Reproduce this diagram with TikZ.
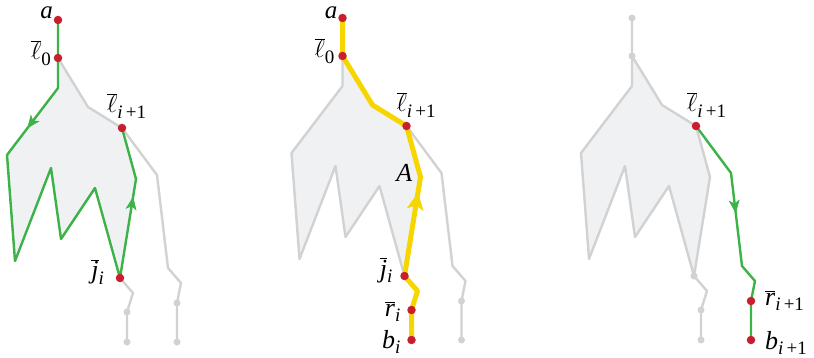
\documentclass[tikz,border=0pt]{standalone}
\usepackage{fontspec}
\setmainfont{Liberation Serif}
\usetikzlibrary{decorations.markings,arrows.meta}
\definecolor{grn}{RGB}{60,178,72}
\definecolor{ylw}{RGB}{247,214,0}
\definecolor{rdot}{RGB}{200,30,45}
\definecolor{gline}{RGB}{210,210,210}
\definecolor{gfill}{RGB}{240,241,243}
\newcommand\ob[1]{\ensuremath{\overline{\hbox{\itshape #1}}}}
\newcommand\obl{\ensuremath{\overline{\ell}}}
\newcommand\sbs[1]{\raisebox{-0.2em}{\fontsize{19}{19}\selectfont #1}}
\newcommand\defpts[1]{%
 \coordinate (#1a) at (58,20);
 \coordinate (#1l0) at (58,58);
 \coordinate (#1p1) at (58,88);
 \coordinate (#1p2) at (7,155);
 \coordinate (#1p3) at (15,261);
 \coordinate (#1p4) at (51,168);
 \coordinate (#1p5) at (61,239);
 \coordinate (#1p6) at (95,188);
 \coordinate (#1j) at (120,278);
 \coordinate (#1A) at (136,179);
 \coordinate (#1l) at (122,128);
 \coordinate (#1q) at (88,107);
 \coordinate (#1s1) at (157,175);
 \coordinate (#1s2) at (168,268);
 \coordinate (#1s3) at (181,283);
 \coordinate (#1r2) at (177,303);
 \coordinate (#1b2) at (177,342);
 \coordinate (#1t1) at (133,293);
 \coordinate (#1r) at (127,312);
 \coordinate (#1b) at (127,342);
}
\newcommand\polyfill[1]{%
 \fill[gfill] (#1l0) -- (#1p1) -- (#1p2) -- (#1p3) -- (#1p4) -- (#1p5) -- (#1p6) -- (#1j) -- (#1A) -- (#1l) -- (#1q) -- cycle;
}
\begin{document}
\begin{tikzpicture}[x=1pt,y=-1pt,
  gl/.style={draw=gline,line width=2.4pt,line join=round,line cap=round},
  gr/.style={draw=grn,line width=2.4pt,line join=round,line cap=round},
  yl/.style={draw=ylw,line width=5pt,line join=round,line cap=round},
  rd/.style={circle,fill=rdot,inner sep=0pt,minimum size=8.5pt},
  gd/.style={circle,fill=gline,inner sep=0pt,minimum size=7pt},
  lbl/.style={inner sep=0pt,font=\fontsize{26}{28}\selectfont},
  small/.style={text height=11pt,font=\fontsize{25}{27}\selectfont},
  garrow/.style={color=grn,postaction={decorate},decoration={markings,mark=at position #1 with {\arrow{Stealth[length=13pt,width=11pt,inset=3.5pt,line width=0.5pt]}}}},
  yarrow/.style={color=ylw,postaction={decorate},decoration={markings,mark=at position #1 with {\arrow{Stealth[length=17pt,width=17pt,inset=4.5pt,line width=0.5pt]}}}}
]
\useasboundingbox (0,0) rectangle (814,358);

% ---------- panel 1 ----------
\begin{scope}
\defpts{P1-}
\polyfill{P1-}
\draw[gl] (P1-l0) -- (P1-q) -- (P1-l) -- (P1-s1) -- (P1-s2) -- (P1-s3) -- (P1-r2) -- (P1-b2);
\draw[gl] (P1-j) -- (P1-t1) -- (P1-r) -- (P1-b);
\draw[gr] (P1-a) -- (P1-l0) -- (P1-p1) -- (P1-p2) -- (P1-p3) -- (P1-p4) -- (P1-p5) -- (P1-p6) -- (P1-j) -- (P1-A) -- (P1-l);
\path[garrow=0.6] (P1-p1) -- (P1-p2);
\path[garrow=0.82] (P1-j) -- (P1-A);
\node[gd] (P1-dr) at (P1-r) {};
\node[gd] (P1-db) at (P1-b) {};
\node[gd] (P1-dr2) at (P1-r2) {};
\node[gd] (P1-db2) at (P1-b2) {};
\node[rd] (P1-da) at (P1-a) {};
\node[rd] (P1-dl0) at (P1-l0) {};
\node[rd] (P1-dl) at (P1-l) {};
\node[rd] (P1-dj) at (P1-j) {};
\node[lbl,small,anchor=base east] (P1-ta) at (53,19) {\itshape a};
\node[lbl,anchor=base east] (P1-tl0) at (51,60) {\obl\sbs{0}};
\node[lbl,anchor=base west] (P1-tl) at (107,113) {\obl\sbs{\itshape i\,\upshape +1}};
\node[lbl,anchor=base east] (P1-tj) at (104,279) {\ob{j}\sbs{\itshape i}};
\end{scope}

% ---------- panel 2 ----------
\begin{scope}[shift={(284.5,-2)}]
\defpts{P2-}
\polyfill{P2-}
\draw[gl] (P2-l0) -- (P2-p1) -- (P2-p2) -- (P2-p3) -- (P2-p4) -- (P2-p5) -- (P2-p6) -- (P2-j);
\draw[gl] (P2-l) -- (P2-s1) -- (P2-s2) -- (P2-s3) -- (P2-r2) -- (P2-b2);
\draw[yl] (P2-a) -- (P2-l0) -- (P2-q) -- (P2-l) -- (P2-A) -- (P2-j) -- (P2-t1) -- (P2-r) -- (P2-b);
\path[yarrow=0.84] (P2-j) -- (P2-A);
\node[gd] (P2-dr2) at (P2-r2) {};
\node[gd] (P2-db2) at (P2-b2) {};
\node[rd] (P2-da) at (P2-a) {};
\node[rd] (P2-dl0) at (P2-l0) {};
\node[rd] (P2-dl) at (P2-l) {};
\node[rd] (P2-dj) at (P2-j) {};
\node[rd] (P2-dr) at (P2-r) {};
\node[rd] (P2-db) at (P2-b) {};
\node[lbl,small,anchor=base east] (P2-ta) at (53,21) {\itshape a};
\node[lbl,anchor=base east] (P2-tl0) at (50,60) {\obl\sbs{0}};
\node[lbl,anchor=base west] (P2-tl) at (112,114) {\obl\sbs{\itshape i\,\upshape +1}};
\node[lbl,anchor=base east] (P2-tA) at (128,184) {\itshape A};
\node[lbl,anchor=base east] (P2-tj) at (108,279) {\ob{j}\sbs{\itshape i}};
\node[lbl,anchor=base east] (P2-tr) at (116,318) {\ob{r}\sbs{\itshape i}};
\node[lbl,anchor=base east] (P2-tb) at (116,350) {\itshape b\sbs{i}};
\end{scope}

% ---------- panel 3 ----------
\begin{scope}[shift={(574,-2)}]
\defpts{P3-}
\polyfill{P3-}
\draw[gl] (P3-a) -- (P3-l0) -- (P3-p1) -- (P3-p2) -- (P3-p3) -- (P3-p4) -- (P3-p5) -- (P3-p6) -- (P3-j) -- (P3-A) -- (P3-l) -- (P3-q) -- (P3-l0);
\draw[gl] (P3-j) -- (P3-t1) -- (P3-r) -- (P3-b);
\draw[gr] (P3-l) -- (P3-s1) -- (P3-s2) -- (P3-s3) -- (P3-r2) -- (P3-b2);
\path[garrow=0.43] (P3-s1) -- (P3-s2);
\node[gd] (P3-da) at (P3-a) {};
\node[gd] (P3-dl0) at (P3-l0) {};
\node[gd] (P3-dj) at (P3-j) {};
\node[gd] (P3-dr) at (P3-r) {};
\node[gd] (P3-db) at (P3-b) {};
\node[rd] (P3-dl) at (P3-l) {};
\node[rd] (P3-dr2) at (P3-r2) {};
\node[rd] (P3-db2) at (P3-b2) {};
\node[lbl,anchor=base west] (P3-tl) at (113,114) {\obl\sbs{\itshape i\,\upshape +1}};
\node[lbl,anchor=base west] (P3-tr) at (191,307) {\ob{r}\sbs{\itshape i\,\upshape +1}};
\node[lbl,anchor=base west] (P3-tb) at (191,351) {\itshape b\sbs{i\,\upshape +1}};
\end{scope}
\end{tikzpicture}
\end{document}
